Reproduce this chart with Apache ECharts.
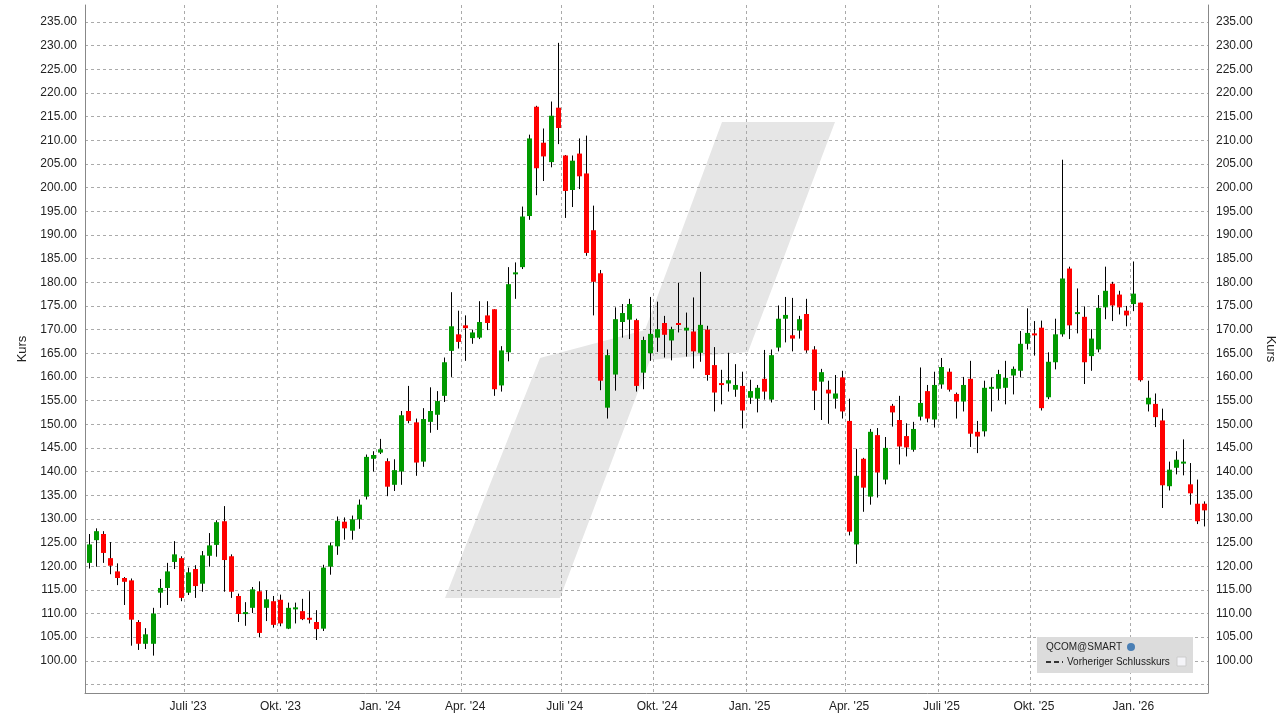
<!DOCTYPE html>
<html><head><meta charset="utf-8">
<script src="https://cdn.jsdelivr.net/npm/echarts@6/dist/echarts.min.js"></script>
<style>html,body{margin:0;padding:0;background:#fff}#c{width:1279px;height:718px}</style>
</head><body><div id="c"></div>
<script>
// [open, close, low, high] weekly
const ohlc = [
[120.7,124.6,119.5,126.8],[125.5,127.4,119.9,128],[126.8,122.8,120.7,127.4],[121.7,120.1,118.3,125.1],
[118.9,117.5,116,120.6],[117.5,116.7,111.8,117.7],[117,108.7,103.2,117.4],[108.2,103.6,102.3,108.6],
[103.6,105.6,102.5,106.9],[103.6,110,101.1,111.2],[114.4,115.4,111.2,117.3],[115.4,118.9,111.8,120.7],
[120.9,122.5,119.4,125.3],[121.7,113.3,112.6,122.1],[114.4,118.7,113.9,119.7],[119.4,115.8,113.3,120.2],
[116.3,122.3,114.6,123.2],[122.2,124.4,119.9,127],[124.5,129.3,122,129.7],[129.5,121.3,114.6,132.7],
[122.1,114.6,113.3,122.5],[113.7,109.9,108.2,114.2],[110,110.3,107.4,112.4],[111.2,115.1,110.1,115.6],
[114.7,105.9,105,116.8],[111.2,113,108.4,114.9],[112.6,107.6,107,113.7],[112.9,107.9,107.3,114],
[106.8,111.2,106.7,112.3],[111,111.3,107.9,112.3],[110.5,108.8,108.6,113.1],[109.1,108.8,107.9,114.7],
[108.2,106.7,104.4,110.7],[106.8,119.7,106.3,120.3],[119.9,124.4,118.2,125],[124.2,129.6,122.4,130.5],
[129.4,128,125.6,130.3],[127.5,129.9,125.6,130.7],[129.9,133,127.9,134.1],[134.7,143.1,134.1,143.6],
[142.7,143.5,140,144.3],[144,144.7,143.7,146.9],[142.2,136.8,134.8,142.8],[137.2,140.3,135.9,142.6],
[140,151.9,137.2,152.8],[152.8,150.7,150.2,158.1],[150.4,141.9,139.1,151.2],[142.1,151.1,141,153.4],
[150.5,152.8,148.2,157.8],[152,154.9,148.8,157],[156,163.1,154.7,164.1],[165.5,170.7,160,177.9],
[169,167.4,166,174],[170.9,170.3,163.4,173],[168.2,169.4,167,170],[168.3,171.6,168,176],
[173,171.4,169.9,176],[174.3,157.4,156,174.3],[158.2,165.6,156.9,166.5],[165.2,179.6,163.3,183.2],
[181.7,182.1,176.5,184.2],[183.2,193.9,182.8,196],[194,210.4,193.2,211.2],[217.1,204.1,198.4,217.3],
[209.5,206.6,201.4,212.5],[205.4,215.2,204.3,218.2],[216.9,212.6,209.2,230.6],[206.8,199.3,193.6,206.9],
[199.5,205.7,195.9,206.8],[207.2,202.4,199.7,210.4],[203,186.2,185.6,211],[191,180.1,173,196.2],
[181.9,159.2,157.2,182.6],[153.5,164.6,151.2,165.8],[160.5,172.2,157.1,174.7],[171.6,173.5,168.3,175.4],
[172.1,175.4,168,176.5],[172,158.1,156.9,172.3],[160.9,167.8,157.4,168.5],[165,169.1,163.4,176.9],
[168.3,170.1,165.3,175.9],[171.4,168.9,164.1,172.9],[167.7,170.1,163.5,170.6],[171.4,171.1,169.4,179.9],
[169.8,170.4,164.3,173.6],[169.6,165.4,161.8,176.8],[165.1,171,163.2,182.2],[170,160.4,159.2,170.8],
[162.5,156.7,152.7,166.3],[158.7,158.4,154.2,161.5],[158.6,159.3,156.9,165.1],[157.3,158.3,155.8,162.7],
[158.1,152.9,149.1,161.1],[155.6,157,154.3,159.4],[155.4,157.7,152.5,158.3],[159.6,156.9,155.2,165.7],
[155.2,164.6,154.6,165.8],[166.2,172.3,165.4,175.1],[172.3,173.1,167.3,176.9],[168.8,168.1,165.4,176.7],
[169.8,172.2,168.1,172.9],[173.3,165.6,165.1,176.5],[165.8,157.1,153,166.5],[159,161,150.9,161.7],
[157.3,156.5,150.1,159.2],[155.4,156.5,153.3,160.4],[159.9,152.7,151.2,161.3],[150.7,127.3,126.5,155.4],
[124.6,139.1,120.5,144.8],[142.7,136.6,131.5,142.9],[134.7,148.4,133,149],[147.7,139.8,134.5,149.2],
[138.3,145,137.3,147.3],[153.9,152.5,149.5,154.3],[150.9,145.3,141.5,156],[147.5,145.1,143.2,150.2],
[144.6,149,144.2,150.5],[151.6,154.5,150.8,162],[157,151.2,150.4,158.3],[151,158.3,149.3,161.1],
[158.4,162.1,157.5,164],[161.1,157.3,156.9,161.8],[156.4,154.8,151.2,156.7],[154.8,158.3,152.7,160],
[159.6,148,145.2,163.4],[148.4,147.4,143.9,150.7],[148.5,157.7,147.4,159.2],[157.5,157.9,152.7,159.9],
[157.5,160.6,155.1,161.5],[157.7,159.8,154.2,163.4],[160.3,161.7,156.3,162.2],[161.3,167,159.9,169.7],
[167,169.3,165.8,174.5],[169.2,168.9,164.5,171.8],[170.4,153.4,152.9,171.9],[155.7,163.2,155.3,165.2],
[163.1,169,161.6,172.3],[169,180.8,168.5,205.9],[182.9,170.9,168,183.3],[173.4,173.7,169.2,178.7],
[172.7,163.1,158.5,174.9],[164.4,168.1,161.3,170.1],[165.8,174.6,165.2,177.3],[174.7,178.2,172.2,183.3],
[179.7,175.1,171.8,180.1],[177.4,174.7,173.2,178.2],[174,173,170.7,175],[175.4,177.6,173.9,184.4],
[175.7,159.3,159,175.7],[154.2,155.6,152.7,159.2],[154.3,151.5,149.4,156.5],[150.8,137.1,132.3,153.3],
[136.9,140.4,136,142.1],[140.8,142.5,139.4,144.3],[141.8,142.1,139.2,146.8],[137.3,135.4,133,141.8],
[133.2,129.5,128.9,138.3],[133.2,131.8,128.4,133.7]
];
const tickIndex = [14,27,41,53,67,80,93,107,120,133,147];
const tickLabels = ["Juli '23","Okt. '23","Jan. '24","Apr. '24","Juli '24","Okt. '24","Jan. '25","Apr. '25","Juli '25","Okt. '25","Jan. '26"];
const yGridValues = [95,100,105,110,115,120,125,130,135,140,145,150,155,160,165,170,175,180,185,190,195,200,205,210,215,220,225,230,235];
const yLabelValues = yGridValues.filter(v=>v>=100);

const start = Date.UTC(2023,2,24);
const categories = ohlc.map((d,i)=>new Date(start+i*7*86400000).toISOString().slice(0,10));
const tickMap = {}; tickIndex.forEach((ix,k)=>tickMap[ix]=tickLabels[k]);

const FONT = 'Liberation Sans, Arial, sans-serif';
const chart = echarts.init(document.getElementById('c'));
const yLab = {fontSize:12,color:'#222',fontFamily:FONT,customValues:yLabelValues,formatter:v=>Number(v).toFixed(2)};
chart.setOption({
  animation:false,
  grid:{left:85,right:71,top:5,bottom:25,containLabel:false,outerBoundsMode:'none'},
  graphic:[
    {type:'polygon',z:-10,shape:{points:[[445,598],[560,598],[650,360],[748,352],[835,122],[722,122],[645,330],[540,358]]},style:{fill:'#e6e6e6'}},
    {type:'rect',shape:{x:1037,y:637,width:156,height:36},style:{fill:'#dcdcdc'},z:100},
    {type:'text',x:1046,y:642,z:101,style:{text:'QCOM@SMART',font:'10px '+FONT,fill:'#222'}},
    {type:'circle',shape:{cx:1131,cy:647,r:4},style:{fill:'#4a7fb5'},z:101},
    {type:'line',shape:{x1:1046,y1:662,x2:1063,y2:662},style:{stroke:'#333',lineWidth:2,lineDash:[5,3]},z:101},
    {type:'text',x:1067,y:657,z:101,style:{text:'Vorheriger Schlusskurs',font:'10px '+FONT,fill:'#222'}},
    {type:'rect',shape:{x:1177,y:657,width:9,height:9},style:{fill:'#f4f4f8',stroke:'#ccc'},z:101}
  ],
  xAxis:{type:'category',data:categories,boundaryGap:true,
    axisLine:{lineStyle:{color:'#888'}},
    axisTick:{show:false},
    axisLabel:{interval:(i)=>tickMap[i]!==undefined,formatter:(v,i)=>tickMap[i]||'',fontSize:12,color:'#222',fontFamily:FONT,margin:8},
    splitLine:{show:true,interval:(i)=>tickMap[i]!==undefined,lineStyle:{color:'#aaa',type:[3,3]}}
  },
  yAxis:[
    {type:'value',min:93.2,max:238.6,position:'left',name:'Kurs',nameLocation:'middle',nameGap:56,nameRotate:90,
     nameTextStyle:{fontSize:13,color:'#222',fontFamily:FONT},
     axisLine:{show:true,lineStyle:{color:'#888'}},axisTick:{show:false,customValues:yGridValues},axisLabel:yLab,
     splitLine:{show:true,lineStyle:{color:'#aaa',type:[3,3]}}},
    {type:'value',min:93.2,max:238.6,position:'right',name:'Kurs',nameLocation:'middle',nameGap:46,nameRotate:-90,
     nameTextStyle:{fontSize:13,color:'#222',fontFamily:FONT},
     axisLine:{show:true,lineStyle:{color:'#888'}},axisTick:{show:false,customValues:yGridValues},axisLabel:yLab,splitLine:{show:false}}
  ],
  series:[{
    type:'custom',
    data:ohlc.map((d,i)=>[i,d[0],d[1],d[2],d[3]]),
    encode:{x:0,y:[1,2,3,4]},
    renderItem:(params,api)=>{
      const x=api.value(0),o=api.value(1),c=api.value(2),l=api.value(3),h=api.value(4);
      const pO=api.coord([x,o]),pC=api.coord([x,c]),pL=api.coord([x,l]),pH=api.coord([x,h]);
      const w=5, up=c>=o;
      const top=Math.min(pO[1],pC[1]), hgt=Math.max(Math.abs(pO[1]-pC[1]),2);
      return {type:'group',children:[
        {type:'line',shape:{x1:Math.round(pL[0])+0.5,y1:pL[1],x2:Math.round(pH[0])+0.5,y2:pH[1]},style:{stroke:'#000',lineWidth:1}},
        {type:'rect',shape:{x:Math.round(pO[0])-2,y:top,width:w,height:hgt},style:{fill:up?'#009900':'#ff0000'}}
      ]};
    }
  }]
});
</script></body></html>
